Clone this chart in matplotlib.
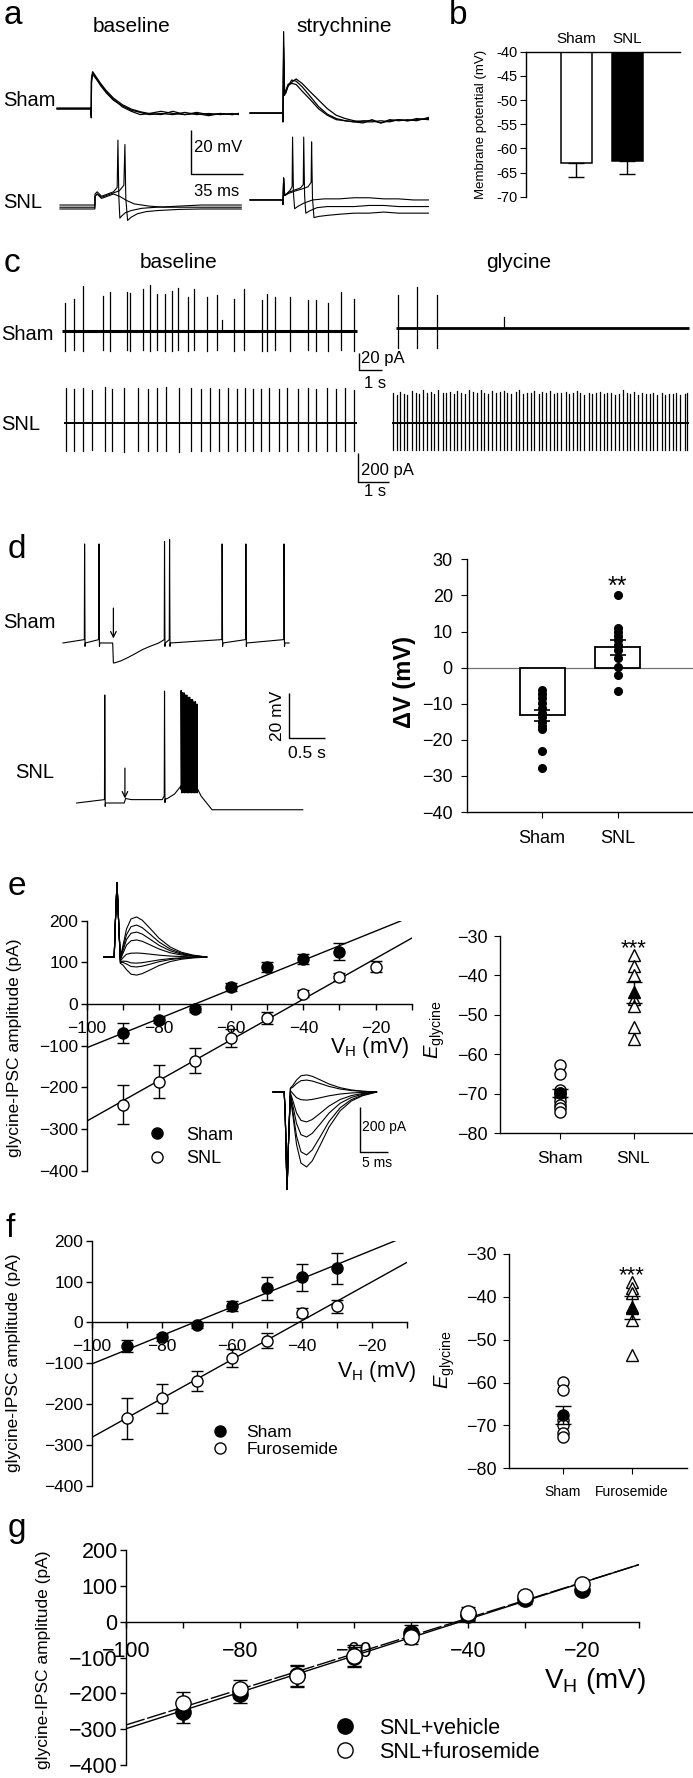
import matplotlib
matplotlib.use("Agg")
import numpy as np
import matplotlib.pyplot as plt
from matplotlib import font_manager

W, H = 693, 1778

_installed = {f.name for f in font_manager.fontManager.ttflist}
FONT = "Liberation Sans" if "Liberation Sans" in _installed else "DejaVu Sans"
plt.rcParams["font.family"] = [FONT, "DejaVu Sans"]
plt.rcParams["mathtext.fontset"] = "custom"
plt.rcParams["mathtext.rm"] = FONT
plt.rcParams["mathtext.it"] = FONT + ":italic"
plt.rcParams["axes.linewidth"] = 1.0

# ---------------- panel a: evoked responses (ms, mV from baseline) ----------------
a_sham_base_t = [0, 23, 23.05, 23.2, 24, 26, 29, 33, 38, 44, 50, 56, 62, 70, 78, 86, 94, 102, 110, 118, 122]
a_sham_base_v = [
    [0, 0, -4, 14, 17, 15, 12, 8.5, 5, 2, 0, -1.2, -2, -2.5, -1, -2.5, -2, -3, -2, -2.5, -2],
    [0.5, 0.5, -3, 13, 16.5, 14.5, 11, 7.5, 4, 1.5, -0.5, -1.5, -2.5, -2, -2.5, -1.5, -2.5, -2, -2.5, -2, -2.5],
    [0.2, 0.2, -3, 12, 16, 14, 11.5, 8, 4.5, 1, -1, -2.5, -2, -1, -2, -2.5, -1.5, -2.5, -2, -2.5, -2],
]
a_sham_str_t = [0, 22, 22.1, 22.6, 23.2, 24, 25.5, 28, 31, 35, 40, 46, 52, 58, 64, 70, 76, 82, 88, 94, 100, 106, 112, 120]
a_sham_str_v = [
    [0, 0, -4, 37, 10, 9, 12, 15, 14.5, 12, 8, 3, -0.5, -2.5, -3.5, -4, -4.5, -3, -4.5, -3, -3.5, -3, -3.5, -2],
    [0, 0, -4, 30, 9, 10, 13, 14, 15.5, 13.5, 10, 6, 2, -1, -2.5, -3.5, -4, -4, -3.5, -4, -3, -3.5, -3, -2.5],
    [0, 0, -3, 25, 8, 9.5, 12.5, 13.5, 13, 10, 6.5, 2, -1, -3, -3.5, -4, -3.5, -3.5, -4.5, -3.5, -3, -3.5, -2.5, -3],
]
a_snl_base_t = [
    [0, 23.5, 23.6, 25, 28, 32, 36, 38.5, 39, 39.6, 40.3, 41.5, 44, 48, 55, 65, 80, 95, 110, 122],
    [0, 23.5, 23.6, 25, 28, 32, 36, 40, 43, 43.7, 44.3, 45.5, 48, 52, 58, 66, 80, 95, 110, 122],
    [0, 23.5, 23.6, 25, 28, 32, 36, 40, 45, 50, 60, 70, 85, 100, 122],
]
a_snl_base_v = [
    [0, 0, 5, 6, 4, 5, 6, 8, 29.5, 4, -6, -5, -3.5, -2.5, -1.5, -1, -0.5, 0, 0, 0],
    [-1.8, -1.8, 4, 5, 3.5, 4.5, 5.5, 6.5, 9, 27.5, 3, -7, -5.5, -4, -3, -2.5, -2, -1.8, -1.8, -1.8],
    [-1, -1, 4, 5, 3, 4, 5, 4, 2, 0.5, -0.5, -1, -1, -1, -1],
]
a_snl_str_t = [
    [0, 22, 22.1, 22.6, 23.3, 25, 27, 28.3, 28.6, 29.2, 30, 32, 36, 42, 50, 60, 70, 80, 90, 100, 110, 120],
    [0, 22, 22.1, 22.6, 23.3, 26, 30, 34, 35.8, 36.1, 36.7, 37.5, 40, 45, 52, 60, 70, 80, 90, 100, 110, 120],
    [0, 22, 22.1, 22.6, 23.3, 26, 30, 35, 39, 41.1, 41.4, 42, 43, 46, 52, 60, 70, 80, 90, 100, 110, 120],
]
a_snl_str_v = [
    [0, 0, -2, 10, 2, 3, 4.5, 6, 28.6, 3, -4, -3, -1.5, 0, 0.5, 0.5, 1, 1, 0.5, 0.5, 0, 0],
    [0, 0, -2, 10, 2, 3.5, 4.5, 5.5, 7, 28.6, 2, -6, -5, -3.5, -3, -3, -3, -2.5, -2.5, -3, -3, -3],
    [0, 0, -2, 10, 2, 3, 4, 5, 6, 8, 26.4, 1, -8, -7.5, -7, -6.5, -6, -6, -5.5, -6, -6, -6],
]
a_scale = (35, 20)  # ms, mV

# ---------------- panel b: membrane potential ----------------
b_groups = ["Sham", "SNL"]
b_mean = [-63.1, -62.6]
b_sem = [2.9, 2.7]

# ---------------- panel c: spontaneous IPSC trains (s, pA) ----------------
c_sham_base_t = [0.13, 0.50, 0.88, 1.73, 2.07, 2.77, 2.92, 3.45, 3.77, 4.06, 4.39, 4.68, 4.94, 5.37, 5.66,
                 6.19, 6.64, 6.85, 7.36, 7.79, 8.53, 8.74, 9.10, 9.72, 10.51, 10.85, 11.36, 11.93, 12.46]
c_sham_base_up = [33, 38, 53, 41, 46, 46, 45, 49, 54, 43, 44, 47, 51, 40, 49,
                  40, 42, 13, 38, 49, 36, 43, 40, 40, 36, 36, 33, 46, 38]
c_sham_base_down = [23, 22, 24, 22, 23, 22, 24, 22, 23, 22, 24, 23, 22, 23, 22,
                    24, 22, 0, 23, 22, 23, 24, 22, 23, 22, 23, 24, 22, 23]
c_sham_gly_t = [0.09, 0.90, 1.79, 4.62]
c_sham_gly_up = [38, 48, 38, 12]
c_sham_gly_down = [24, 24, 24, 0]
c_snl_base_t = [0.05, 0.32, 0.60, 0.90, 1.31, 1.54, 1.93, 2.40, 2.71, 3.00, 3.28, 3.71, 4.09, 4.42, 4.71, 4.99,
                5.28, 5.59, 5.85, 6.09, 6.35, 6.60, 6.92, 7.20, 7.56, 7.87, 8.13, 8.48, 8.77, 9.05, 9.34]
c_snl_base_up = [240, 235, 240, 230, 250, 235, 240, 238, 236, 240, 250, 238, 240, 236, 238, 236,
                 240, 235, 238, 236, 235, 238, 236, 238, 236, 240, 236, 238, 236, 242, 225]
c_snl_base_down = [190, 195, 190, 185, 195, 190, 200, 190, 195, 190, 195, 200, 190, 195, 190, 195,
                   190, 195, 190, 195, 190, 195, 190, 195, 190, 195, 190, 195, 190, 195, 190]
c_snl_gly_t = [0.03, 0.15, 0.27, 0.40, 0.50, 0.63, 0.76, 0.88, 1.01, 1.12,
               1.26, 1.37, 1.50, 1.63, 1.74, 1.88, 2.00, 2.10, 2.24, 2.37,
               2.48, 2.61, 2.75, 2.86, 2.97, 3.11, 3.23, 3.34, 3.48, 3.61,
               3.72, 3.85, 3.99, 4.09, 4.22, 4.36, 4.47, 4.59, 4.73, 4.84,
               4.96, 5.09, 5.23, 5.33, 5.46, 5.60, 5.71, 5.83, 5.97, 6.08,
               6.20, 6.34, 6.45, 6.57, 6.71, 6.84, 6.94, 7.07, 7.21, 7.31,
               7.44, 7.58, 7.69, 7.81, 7.95, 8.06, 8.18, 8.32, 8.43, 8.55,
               8.70, 8.80, 8.92, 9.07, 9.17, 9.29, 9.44, 9.53]
c_snl_gly_up = [205, 190, 215, 200, 195, 222, 210, 198, 225, 205,
                212, 200, 228, 210, 205, 215, 200, 222, 208, 200,
                225, 212, 205, 230, 208, 200, 218, 205, 212, 222,
                205, 198, 215, 225, 200, 210, 205, 218, 200, 212,
                205, 220, 198, 210, 205, 215, 200, 208, 222, 205,
                195, 210, 200, 205, 215, 198, 205, 210, 195, 200,
                230, 205, 198, 212, 195, 205, 200, 198, 210, 195,
                205, 190, 200, 198, 210, 195, 200, 205]
c_snl_gly_down = 188
c_scale_top = (1, 20)    # s, pA
c_scale_bot = (1, 200)   # s, pA

# ---------------- panel d: glycine puff, current clamp (s, mV) ----------------
d_sham_base_t = [0, 0.69, 0.70, 0.72, 0.80, 0.90, 1.00, 1.10, 1.20, 1.33, 3.14]
d_sham_base_v = [0, 0, -8.9, -8.8, -8.0, -6.5, -4.8, -3.0, -1.6, 0, 0]
d_sham_spk_t = [0.30, 0.50, 1.41, 1.48, 2.21, 2.54, 3.07]
d_sham_spk_amp = [44, 44, 45, 46, 44, 44, 44]
d_snl_base_t = [0.19, 0.85, 0.87, 0.95, 1.38, 1.45, 1.55, 1.64, 1.86, 1.92, 2.07, 3.33]
d_snl_base_v = [0, 0, 2, 1.5, 1.5, 2, 4, 6, 6, 3, -3, -3]
d_snl_spk_t = [0.58, 1.41, 1.64, 1.66, 1.68, 1.70, 1.72, 1.74, 1.76, 1.78, 1.80, 1.82, 1.84, 1.86]
d_snl_spk_amp = [48, 48, 44, 43, 43, 42, 42, 41, 41, 40, 40, 39, 39, 38]
d_arrow_t = [0.70, 0.86]
d_scale = (0.5, 20)  # s, mV

d_groups = ["Sham", "SNL"]
d_mean = [-13.2, 5.6]
d_sem = [1.5, 2.0]
d_sham_pts = [-6.2, -7.3, -8.5, -9.9, -11.3, -12.5, -13.6, -15.0, -16.2, -17.1, -23.0, -27.9]
d_snl_pts = [20.1, 10.9, 9.9, 8.8, 7.6, 6.3, 4.9, 2.6, 0.3, -2.0, -6.4]

# ---------------- panel e: I-V, Sham vs SNL ----------------
vh = [-90, -80, -70, -60, -50, -40, -30, -20]
e_sham_i = [-70, -38, -12, 41, 90, 108, 126]
e_sham_err = [24, 8, 8, 10, 12, 12, 20]
e_snl_i = [-242, -186, -136, -82, -34, 25, 65, 90]
e_snl_err = [47, 39, 30, 22, 14, 8, 10, 13]
e_fit_sham = (3.50, -70.0, -13)   # slope pA/mV, reversal mV, right end mV
e_fit_snl = (4.88, -42.4, -10)

# inset IPSC families (ms, pA)
ins_t = [0, 2.0, 2.2, 2.5, 2.8, 3.1, 3.5, 4.2, 5.0, 6.0, 7.0, 8.5, 10, 12, 14, 16, 18.5]
ins_shape = [0, 0, 0, 0, 0, 0.1, 0.3, 0.7, 0.95, 1.0, 0.92, 0.7, 0.47, 0.25, 0.12, 0.05, 0.0]
ins_top_artifact = [0, 0, 150, 330, 150, -20, -10, 0, 0, 0, 0, 0, 0, 0, 0, 0, 0]
ins_bot_artifact = [0, 0, -120, -440, -200, 10, 5, 0, 0, 0, 0, 0, 0, 0, 0, 0, 0]
ins_top_amp = [178, 142, 111, 76, 18, -27, -44, -80]
ins_bot_amp = [76, 53, -36, -133, -200, -280, -333]
ins_scale = (5, 200)  # ms, pA

e_rev_sham = [-62.7, -64.9, -69.0, -69.8, -70.7, -71.9, -72.8, -73.6, -74.5]
e_rev_snl = [-34.8, -37.7, -40.0, -46.0, -47.7, -53.0, -56.2]
e_rev_mean = [-69.8, -44.3]
e_rev_sem = [0.9, 2.6]

# ---------------- panel f: I-V, Sham vs furosemide ----------------
f_sham_i = [-58, -37, -7, 40, 83, 110, 132]
f_sham_err = [15, 8, 6, 12, 28, 32, 37]
f_furo_i = [-235, -186, -143, -87, -45, 24, 40]
f_furo_err = [50, 35, 25, 22, 18, 10, 16]
f_fit_sham = (3.48, -70.7, -13)
f_fit_furo = (4.76, -40.8, -10)
f_rev_sham = [-59.8, -61.7, -68.7, -69.9, -71.8, -72.8]
f_rev_furo = [-36.5, -38.0, -39.2, -42.3, -45.4, -53.6]
f_rev_mean = [-67.5, -42.5]
f_rev_sem = [2.1, 2.6]

# ---------------- panel g: SNL vehicle vs furosemide ----------------
g_veh_i = [-253, -202, -150, -98, -31, 18, 62, 88]
g_veh_err = [30, 25, 30, 28, 22, 15, 12, 8]
g_furo_i = [-227, -187, -153, -95, -42, 23, 71, 106]
g_furo_err = [30, 25, 30, 30, 20, 17, 12, 10]
g_fit_veh = (5.09, -41.3, -10)
g_fit_furo = (4.97, -42.0, -10)


fig = plt.figure(figsize=(W / 100, H / 100), dpi=100)


def box(x0, y0, x1, y1):
    return fig.add_axes([x0 / W, 1 - y1 / H, (x1 - x0) / W, (y1 - y0) / H])


def label(px, py, s, size, ha="left", va="center", **kw):
    fig.text(px / W, 1 - py / H, s, fontsize=size, ha=ha, va=va, **kw)


def spike_train(ax, t0, length, times, ups, downs, base=0.0, lw_base=1.0, lw_spk=0.9):
    if np.isscalar(downs):
        downs = [downs] * len(times)
    ax.plot([t0, t0 + length], [base, base], color="k", lw=lw_base, solid_capstyle="butt")
    for t, u, d in zip(times, ups, downs):
        ax.plot([t0 + t, t0 + t], [base - d, base + u], color="k", lw=lw_spk)


def spiking_trace(ax, base_t, base_v, spk_t, spk_amp, offset=0.0):
    pts = list(zip(base_t, base_v))
    for t, a in zip(spk_t, spk_amp):
        b = float(np.interp(t, base_t, base_v))
        pts += [(t - 0.004, b + 1.5), (t, b + a), (t + 0.006, b - 1.5), (t + 0.012, b)]
    pts.sort()
    ax.plot([p[0] for p in pts], [p[1] + offset for p in pts], color="k", lw=0.8)


def scale_bar(ax, x, y, dx, dy):
    ax.plot([x, x, x + dx], [y + dy, y, y], color="k", lw=1.0, solid_capstyle="butt")


# ======================= panel a =======================
axA = box(50, 20, 440, 240)
axA.set_xlim(0, 262.4)
axA.set_ylim(0, 100)
axA.axis("off")
A_COL = (4.7, 134.6)
A_SNL_COL = 6.7
for v in a_sham_base_v:
    axA.plot([A_COL[0] + t for t in a_sham_base_t], [59.5 + y for y in v], color="k", lw=0.9)
for v in a_sham_str_v:
    axA.plot([A_COL[1] + t for t in a_sham_str_t], [57.7 + y for y in v], color="k", lw=0.9)
for t, v in zip(a_snl_base_t, a_snl_base_v):
    axA.plot([A_SNL_COL + x for x in t], [15.9 + y for y in v], color="k", lw=0.8)
for t, v in zip(a_snl_str_t, a_snl_str_v):
    axA.plot([A_COL[1] + x for x in t], [18.2 + y for y in v], color="k", lw=0.8)
scale_bar(axA, 94.9, 30, a_scale[0], a_scale[1])

label(4, 0, "a", 24, va="top")
label(132, 27, "baseline", 15, ha="center")
label(344, 27, "strychnine", 15, ha="center")
label(3, 100, "Sham", 14.5)
label(3, 202, "SNL", 14.5)
label(194, 147, f"{a_scale[1]} mV", 12)
label(217, 192, f"{a_scale[0]} ms", 12, ha="center")

# ======================= panel b =======================
axB = box(526, 51.7, 680, 196.7)
axB.set_ylim(-70, -40)
axB.set_xlim(0.01, 3.03)
xb = [1, 2]
axB.bar(xb, [m - (-40) for m in b_mean], bottom=-40, width=0.61,
        color=["white", "black"], edgecolor="black", linewidth=1.1, zorder=2)
axB.errorbar(xb, b_mean, yerr=[b_sem, [0, 0]], fmt="none", ecolor="black",
             elinewidth=1.0, capsize=6, capthick=1.0, zorder=3)
axB.spines["right"].set_visible(False)
axB.spines["bottom"].set_visible(False)
axB.set_yticks([-40, -45, -50, -55, -60, -65, -70])
axB.set_yticklabels(["-40", "-45", "-50", "-55", "-60", "-65", "-70"])
axB.xaxis.tick_top()
axB.set_xticks(xb)
axB.set_xticklabels(b_groups, fontsize=11)
axB.tick_params(axis="x", length=0, pad=4)
axB.tick_params(axis="y", direction="out", length=4, labelsize=10.5, pad=2)
label(449, 0, "b", 24, va="top")
label(481, 124, "Membrane potential (mV)", 9.5, ha="center", rotation=90)

# ======================= panel c =======================
axC1 = box(55, 275, 693, 378)
axC1.set_xlim(0, 27.26)
axC1.set_ylim(-55.3, 65.9)
axC1.axis("off")
spike_train(axC1, 0.30, 12.6, c_sham_base_t, c_sham_base_up, c_sham_base_down, lw_base=2.2)
spike_train(axC1, 14.55, 12.55, c_sham_gly_t, c_sham_gly_up, c_sham_gly_down, base=3.9, lw_base=2.0)
scale_bar(axC1, 12.99, -45.9, c_scale_top[0], c_scale_top[1])

axC2 = box(55, 380, 693, 500)
axC2.set_xlim(0, 20.58)
axC2.set_ylim(-531, 296.6)
axC2.axis("off")
spike_train(axC2, 0.29, 9.45, c_snl_base_t, c_snl_base_up, c_snl_base_down, lw_base=1.4)
spike_train(axC2, 10.87, 9.58, c_snl_gly_t, c_snl_gly_up, c_snl_gly_down, lw_base=1.4)
scale_bar(axC2, 9.77, -406.9, c_scale_bot[0], c_scale_bot[1])

label(4, 272, "c", 24, va="baseline")
label(179, 262, "baseline", 15, ha="center")
label(519, 262, "glycine", 15, ha="center")
label(1, 335, "Sham", 14.5)
label(1, 425, "SNL", 14.5)
label(361, 359, f"{c_scale_top[1]} pA", 12)
label(375, 384, f"{c_scale_top[0]} s", 12, ha="center")
label(361, 470, f"{c_scale_bot[1]} pA", 12)
label(375, 491, f"{c_scale_bot[0]} s", 12, ha="center")

# ======================= panel d (traces) =======================
axD = box(55, 530, 340, 830)
axD.set_xlim(-0.111, 3.847)
axD.set_ylim(-83.1, 50.2)
axD.axis("off")
D_SNL_OFF = -71.1
spiking_trace(axD, d_sham_base_t, d_sham_base_v, d_sham_spk_t, d_sham_spk_amp)
spiking_trace(axD, d_snl_base_t, d_snl_base_v, d_snl_spk_t, d_snl_spk_amp, offset=D_SNL_OFF)
for t, off in zip(d_arrow_t, (0.0, D_SNL_OFF)):
    axD.annotate("", xy=(t, off + 2.0), xytext=(t, off + 15.5),
                 arrowprops=dict(arrowstyle="->", lw=0.9, color="k", shrinkA=0, shrinkB=0))
scale_bar(axD, 3.139, -42.2, d_scale[0], d_scale[1])
label(8, 558, "d", 24, va="baseline")
label(3, 622, "Sham", 14.5)
label(15, 773, "SNL", 14.5)
label(277, 716, f"{d_scale[1]} mV", 12.5, ha="center", rotation=90)
label(307, 753, f"{d_scale[0]} s", 12.5, ha="center")

# ======================= panel d (bars) =======================
axD2 = box(466.7, 559.3, 693, 812)
axD2.set_ylim(-40, 30)
axD2.set_xlim(0, 3)
axD2.axhline(0, color="0.45", lw=0.9, zorder=1)
axD2.bar(xb, d_mean, width=0.6, color="white", edgecolor="black", linewidth=1.3, zorder=2)
axD2.plot([1] * len(d_sham_pts), d_sham_pts, "o", color="black", ms=5.5, zorder=3)
axD2.plot([2] * len(d_snl_pts), d_snl_pts, "o", color="black", ms=5.5, zorder=3)
axD2.errorbar(xb, d_mean, yerr=d_sem, fmt="none", ecolor="black", elinewidth=1.2,
              capsize=6, capthick=1.2, zorder=4)
axD2.text(2, 20.5, "**", fontsize=18, ha="center", va="baseline")
for s in ("top", "right"):
    axD2.spines[s].set_visible(False)
axD2.set_yticks(range(-40, 31, 10))
axD2.set_xticks(xb)
axD2.set_xticklabels(d_groups)
axD2.tick_params(direction="out", length=4, labelsize=13)
axD2.tick_params(axis="x", pad=9)
axD2.tick_params(axis="y", pad=6)
label(405, 682, "ΔV (mV)", 17, ha="center", rotation=90, fontweight="bold")


# ======================= I-V helper =======================
def iv_axes(x0, y0, x1, y1, tick_size, xpad):
    ax = box(x0, y0, x1, y1)
    ax.set_xlim(-100, -10)
    ax.set_ylim(-400, 200)
    ax.spines["bottom"].set_position(("data", 0))
    ax.spines["top"].set_visible(False)
    ax.spines["right"].set_visible(False)
    ax.set_xticks([-100, -80, -60, -40, -20])
    ax.set_xticks([-90, -70, -50, -30, -10], minor=True)
    ax.set_yticks(range(-400, 201, 100))
    ax.tick_params(which="both", direction="out", length=4, width=1.0)
    ax.tick_params(axis="x", labelsize=tick_size, pad=xpad)
    ax.tick_params(axis="y", labelsize=tick_size, pad=2)
    return ax


def fit_line(ax, fit, **kw):
    slope, rev, right = fit
    xs = [-100, right]
    ax.plot(xs, [slope * (x - rev) for x in xs], color="k", lw=1.0, zorder=2, **kw)


def iv_series(ax, cur, err, filled, ms, cap, elw=1.0):
    h = ax.errorbar(vh[:len(cur)], cur, yerr=err, fmt="o", ms=ms,
                    mfc="black" if filled else "white", mec="black", mew=1.0,
                    ecolor="black", elinewidth=elw, capsize=cap, capthick=elw, zorder=4)
    return h[0]


def rev_axes(x0, y0, x1, y1, xl, groups, cat_size, pad):
    ax = box(x0, y0, x1, y1)
    ax.set_ylim(-80, -30)
    ax.set_xlim(*xl)
    for s in ("top", "right"):
        ax.spines[s].set_visible(False)
    ax.set_xticks([1, 2])
    ax.set_xticklabels(groups, fontsize=cat_size)
    ax.set_yticks(range(-80, -29, 10))
    ax.tick_params(direction="out", length=4, labelsize=13)
    ax.tick_params(axis="x", pad=pad, labelsize=cat_size)
    ax.tick_params(axis="y", pad=5)
    return ax


def rev_points(ax, sham, other, mean, sem):
    ax.plot([1] * len(sham), sham, "o", mfc="white", mec="black", mew=1.0, ms=8, zorder=3)
    ax.plot([2] * len(other), other, "^", mfc="white", mec="black", mew=1.0, ms=8, zorder=3)
    ax.errorbar([1], [mean[0]], yerr=[sem[0]], fmt="o", color="black", ms=8,
                capsize=6, elinewidth=1.0, capthick=1.0, zorder=4)
    ax.errorbar([2], [mean[1]], yerr=[sem[1]], fmt="^", color="black", ms=8,
                capsize=6, elinewidth=1.0, capthick=1.0, zorder=4)


# ======================= panel e =======================
axE = iv_axes(86.7, 920.7, 411.7, 1170.7, 12.5, 8)
fit_line(axE, e_fit_sham)
fit_line(axE, e_fit_snl)
hs = iv_series(axE, e_sham_i, e_sham_err, True, 8, 4)
ho = iv_series(axE, e_snl_i, e_snl_err, False, 8, 4)
axE.legend([hs, ho], ["Sham", "SNL"], loc="center left", bbox_to_anchor=(0.19, 0.095),
           frameon=False, fontsize=13, handlelength=1.0, handletextpad=1.1,
           labelspacing=0.35, borderpad=0, borderaxespad=0)

axIt = box(103, 880, 210, 985)
axIt.set_xlim(0, 19.1)
axIt.set_ylim(-124, 342)
axIt.axis("off")
for a in ins_top_amp:
    axIt.plot(ins_t, [a * s + art for s, art in zip(ins_shape, ins_top_artifact)], color="k", lw=0.8)
axIb = box(268, 1065, 395, 1190)
axIb.set_xlim(-0.9, 21.8)
axIb.set_ylim(-435.6, 120)
axIb.axis("off")
for a in ins_bot_amp:
    axIb.plot(ins_t, [a * s + art for s, art in zip(ins_shape, ins_bot_artifact)], color="k", lw=0.8)
scale_bar(axIb, 15.5, -266.7, ins_scale[0], ins_scale[1])

label(8, 895, "e", 24, va="baseline")
label(370, 1047, r"V$_{\rm H}$ (mV)", 15.5, ha="center")
label(15, 1048, "glycine-IPSC amplitude (pA)", 12.5, ha="center", rotation=90)
label(362, 1127, f"{ins_scale[1]} pA", 10)
label(377, 1163, f"{ins_scale[0]} ms", 10, ha="center")

axE2 = rev_axes(500, 936, 693, 1133.3, (0.18, 2.81), ["Sham", "SNL"], 12.5, 9)
rev_points(axE2, e_rev_sham, e_rev_snl, e_rev_mean, e_rev_sem)
axE2.text(2, -34.7, "***", fontsize=16, ha="center", va="baseline")
label(435, 1030, r"$E_{\rm glycine}$", 14.5, ha="center", rotation=90)

# ======================= panel f =======================
axF = iv_axes(91.7, 1240.7, 406.7, 1485.7, 12.5, 8)
fit_line(axF, f_fit_sham)
fit_line(axF, f_fit_furo)
hs = iv_series(axF, f_sham_i, f_sham_err, True, 8, 4)
ho = iv_series(axF, f_furo_i, f_furo_err, False, 8, 4)
axF.legend([hs, ho], ["Sham", "Furosemide"], loc="center left", bbox_to_anchor=(0.379, 0.183),
           frameon=False, fontsize=12.5, handlelength=1.0, handletextpad=1.05,
           labelspacing=0.12, borderpad=0, borderaxespad=0)
label(5, 1237, "f", 24, va="baseline")
label(377, 1372, r"V$_{\rm H}$ (mV)", 15.5, ha="center")
label(14, 1363, "glycine-IPSC amplitude (pA)", 12.5, ha="center", rotation=90)

axF2 = rev_axes(509.3, 1254, 686.7, 1468.3, (0.226, 2.80), ["Sham", "Furosemide"], 10, 8)
rev_points(axF2, f_rev_sham, f_rev_furo, f_rev_mean, f_rev_sem)
axF2.text(2, -36.4, "***", fontsize=16, ha="center", va="baseline")
label(445, 1360, r"$E_{\rm glycine}$", 14.5, ha="center", rotation=90)

# ======================= panel g =======================
axG = iv_axes(126, 1550, 639, 1765, 15.5, 10)
fit_line(axG, g_fit_veh)
fit_line(axG, g_fit_furo, dashes=(14, 2))
hs = iv_series(axG, g_veh_i, g_veh_err, True, 11, 5, elw=1.8)
ho = iv_series(axG, g_furo_i, g_furo_err, False, 11, 5, elw=1.2)
axG.legend([hs, ho], ["SNL+vehicle", "SNL+furosemide"], loc="center left",
           bbox_to_anchor=(0.405, 0.115), frameon=False, fontsize=15.5, handlelength=1.0,
           handletextpad=1.1, labelspacing=0.16, borderpad=0, borderaxespad=0)
label(8, 1537, "g", 24, va="baseline")
label(595, 1681, r"V$_{\rm H}$ (mV)", 20, ha="center")
label(44, 1660, "glycine-IPSC amplitude (pA)", 12.5, ha="center", rotation=90)

fig.savefig("out.png", dpi=100)
